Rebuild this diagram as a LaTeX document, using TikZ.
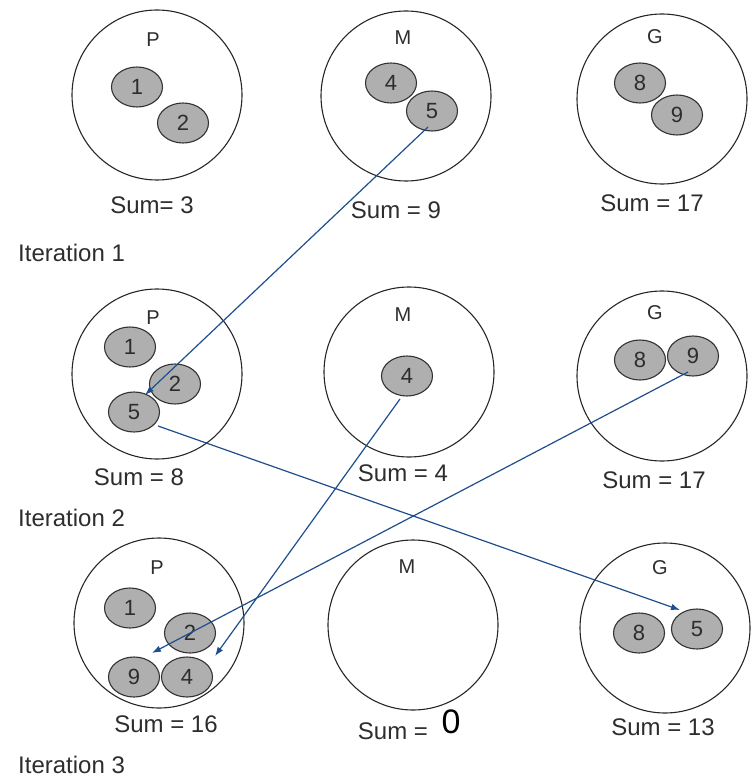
\documentclass[tikz,border=0pt]{standalone}
\usepackage{fontspec}
\setmainfont{Liberation Sans}
\usetikzlibrary{shapes.geometric,arrows.meta}
\definecolor{txt}{RGB}{45,45,45}
\definecolor{ballfill}{RGB}{175,175,175}
\definecolor{arr}{RGB}{31,78,140}
\tikzset{
  bin/.style={circle,draw=black!85,line width=1.1pt,minimum size=170pt,inner sep=0pt},
  binlbl/.style={text=txt,inner sep=0pt,font=\fontsize{20}{22}\selectfont},
  ball/.style={ellipse,draw=black!80,line width=1.1pt,fill=ballfill,minimum width=51pt,minimum height=40pt,inner sep=0pt,text=txt,font=\fontsize{22}{24}\selectfont},
  sumlbl/.style={text=txt,inner sep=0pt,font=\fontsize{24}{28}\selectfont},
  iterlbl/.style={text=txt,inner sep=0pt,anchor=west,font=\fontsize{24}{28}\selectfont},
  mv/.style={draw=arr,line width=1.2pt,-{Latex[length=9pt,width=6.5pt]}}
}
\begin{document}
\begin{tikzpicture}[x=1pt,y=-1pt]
\useasboundingbox (0,0) rectangle (755,778);
% ---------- Row 1 ----------
\node[bin] (p1) at (157,95) {};
\node[binlbl] (p1l) at (153,40) {P};
\node[ball] (p1a) at (137,87) {1};
\node[ball] (p1b) at (183,123) {2};
\node[sumlbl] (p1s) at (152,205) {Sum= 3};

\node[bin] (m1) at (406,96) {};
\node[binlbl] (m1l) at (403,38) {M};
\node[ball] (m1a) at (391,83) {4};
\node[ball] (m1b) at (432,111) {5};
\node[sumlbl] (m1s) at (396,210) {Sum = 9};

\node[bin] (g1) at (662,99) {};
\node[binlbl] (g1l) at (655,37) {G};
\node[ball] (g1a) at (640,83) {8};
\node[ball] (g1b) at (677,115) {9};
\node[sumlbl] (g1s) at (652,203) {Sum = 17};

\node[iterlbl] (it1) at (18,253) {Iteration 1};

% ---------- Row 2 ----------
\node[bin] (p2) at (157,374) {};
\node[binlbl] (p2l) at (153,318) {P};
\node[ball] (p2a) at (130,347) {1};
\node[ball] (p2b) at (175,384) {2};
\node[ball] (p2c) at (134,412) {5};
\node[sumlbl] (p2s) at (139,477) {Sum = 8};

\node[bin] (m2) at (409,372) {};
\node[binlbl] (m2l) at (403,315) {M};
\node[ball] (m2a) at (407,376) {4};
\node[sumlbl] (m2s) at (403,473) {Sum = 4};

\node[bin] (g2) at (662,376) {};
\node[binlbl] (g2l) at (655,313) {G};
\node[ball] (g2a) at (640,360) {8};
\node[ball] (g2b) at (693,356) {9};
\node[sumlbl] (g2s) at (654,480) {Sum = 17};

\node[iterlbl] (it2) at (18,518) {Iteration 2};

% ---------- Row 3 ----------
\node[bin] (p3) at (159,623) {};
\node[binlbl] (p3l) at (157,568) {P};
\node[ball] (p3a) at (130,608) {1};
\node[ball] (p3b) at (190,633) {2};
\node[ball] (p3c) at (134,677) {9};
\node[ball] (p3d) at (187,677) {4};
\node[sumlbl] (p3s) at (166,724) {Sum = 16};

\node[bin] (m3) at (413,625) {};
\node[binlbl] (m3l) at (407,567) {M};
\node[sumlbl] (m3s) at (393,731) {Sum =};
\node[inner sep=0pt,text=black,font=\fontsize{34}{36}\selectfont] (m3z) at (451,722) {0};

\node[bin] (g3) at (665,628) {};
\node[binlbl] (g3l) at (660,568) {G};
\node[ball] (g3a) at (639,633) {8};
\node[ball] (g3b) at (697,629) {5};
\node[sumlbl] (g3s) at (663,727) {Sum = 13};

\node[iterlbl] (it3) at (18,765) {Iteration 3};

% ---------- moves ----------
\draw[mv] ([xshift=-4pt,yshift=-16pt]m1b.center) -- ([xshift=11pt,yshift=17pt]p2c.center);
\draw[mv] ([xshift=24pt,yshift=-14pt]p2c.center) -- ([xshift=-17pt,yshift=19pt]g3b.center);
\draw[mv] ([xshift=-7pt,yshift=-23pt]m2a.center) -- ([xshift=28pt,yshift=21pt]p3d.center);
\draw[mv] ([xshift=-5pt,yshift=-16pt]g2b.center) -- ([xshift=18pt,yshift=24pt]p3c.center);
\end{tikzpicture}
\end{document}
